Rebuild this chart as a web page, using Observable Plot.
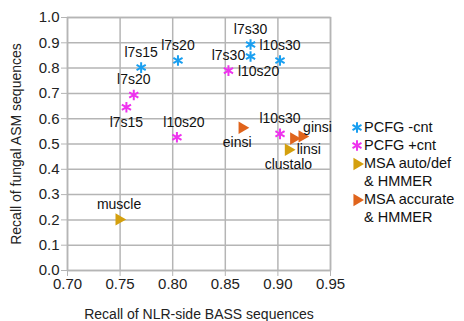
<!DOCTYPE html>
<html>
<head>
<meta charset="utf-8">
<script src="https://cdn.jsdelivr.net/npm/d3@7"></script>
<script src="https://cdn.jsdelivr.net/npm/@observablehq/plot@0.6"></script>
<style>
  html, body { margin: 0; padding: 0; background: #fff; }
  #wrap { position: relative; width: 464px; height: 321px; font-family: "Liberation Sans", Arial, sans-serif; }
  #legend { position: absolute; left: 351px; top: 118px; font-size: 14.5px; line-height: 18px; color: #111; }
  .row { display: flex; align-items: flex-start; }
  .sym { width: 13px; height: 18px; flex: none; }
</style>
</head>
<body>
<div id="wrap"></div>
<script>
// ---- data ----
const seriesNames = ["PCFG -cnt", "PCFG +cnt", "MSA auto/def & HMMER", "MSA accurate & HMMER"];
const seriesColors = ["#1a9ff0", "#ee33ee", "#d4a00e", "#e0641c"];

const pcfgMinusLabels = ["l7s15", "l7s20", "l7s30", "l10s20", "l10s30"];
const pcfgMinusX = [0.770, 0.805, 0.874, 0.874, 0.902];
const pcfgMinusY = [0.802, 0.830, 0.893, 0.846, 0.830];
const pcfgMinusPos = ["n", "n", "n", "sr", "n"];

const pcfgPlusLabels = ["l7s15", "l7s20", "l7s30", "l10s20", "l10s30"];
const pcfgPlusX = [0.756, 0.763, 0.853, 0.804, 0.902];
const pcfgPlusY = [0.645, 0.694, 0.790, 0.527, 0.540];
const pcfgPlusPos = ["s", "n", "n", "nr", "n"];

const msaAutoLabels = ["muscle", "clustalo"];
const msaAutoX = [0.749, 0.910];
const msaAutoY = [0.202, 0.477];
const msaAutoPos = ["n", "s"];

const msaAccLabels = ["einsi", "linsi", "ginsi"];
const msaAccX = [0.866, 0.915, 0.923];
const msaAccY = [0.564, 0.522, 0.530];
const msaAccPos = ["sl", "se", "ne"];

const xTicks = [0.70, 0.75, 0.80, 0.85, 0.90, 0.95];
const yTicks = [0.0, 0.1, 0.2, 0.3, 0.4, 0.5, 0.6, 0.7, 0.8, 0.9, 1.0];

// ---- build table ----
function rows(si, labels, xs, ys, pos) {
  return labels.map((l, i) => ({series: seriesNames[si], label: l, x: xs[i], y: ys[i], pos: pos[i]}));
}
const data = [
  ...rows(0, pcfgMinusLabels, pcfgMinusX, pcfgMinusY, pcfgMinusPos),
  ...rows(1, pcfgPlusLabels, pcfgPlusX, pcfgPlusY, pcfgPlusPos),
  ...rows(2, msaAutoLabels, msaAutoX, msaAutoY, msaAutoPos),
  ...rows(3, msaAccLabels, msaAccX, msaAccY, msaAccPos)
];
const color = Object.fromEntries(seriesNames.map((s, i) => [s, seriesColors[i]]));
const stars = data.filter(d => d.series.startsWith("PCFG"));
const tris = data.filter(d => d.series.startsWith("MSA"));

const gridColor = "#b5b5b5";
const font = "Liberation Sans, Arial, sans-serif";

const posOpts = {
  n:  {dx: 0, dy: -15, textAnchor: "middle"},
  nr: {dx: 7, dy: -15, textAnchor: "middle"},
  s:  {dx: 0, dy: 15, textAnchor: "middle"},
  sr: {dx: 8, dy: 15, textAnchor: "middle"},
  sl: {dx: -5, dy: 15, textAnchor: "middle"},
  ne: {dx: 1, dy: -9, textAnchor: "start"},
  se: {dx: 3, dy: 11, textAnchor: "start"}
};
const labelMarks = Object.entries(posOpts).map(([k, o]) =>
  Plot.text(data.filter(d => d.pos === k), {x: "x", y: "y", text: "label", fontSize: 14, fill: "#111", ...o})
);

const chart = Plot.plot({
  width: 464,
  height: 321,
  marginLeft: 67,
  marginRight: 134,
  marginTop: 17,
  marginBottom: 51,
  style: {fontFamily: font, background: "#fff", overflow: "visible"},
  x: {domain: [0.70, 0.95]},
  y: {domain: [0, 1]},
  marks: [
    Plot.gridX(xTicks, {stroke: gridColor, strokeOpacity: 1, strokeWidth: 1.5}),
    Plot.gridY(yTicks, {stroke: gridColor, strokeOpacity: 1, strokeWidth: 1.5}),
    Plot.frame({stroke: gridColor, strokeWidth: 1.5}),
    Plot.axisX({ticks: xTicks, tickFormat: d3.format(".2f"), tickSize: 6, tickPadding: 2, fontSize: 15, stroke: gridColor, fill: "#222", label: null}),
    Plot.axisY({ticks: yTicks, tickFormat: d3.format(".1f"), tickSize: 6, tickPadding: 2, fontSize: 15, stroke: gridColor, fill: "#222", label: null}),
    Plot.axisX({ticks: [], tickSize: 0, fontSize: 14, fill: "#222", label: "Recall of NLR-side BASS sequences", labelAnchor: "center", labelArrow: "none", labelOffset: 48}),
    Plot.axisY({ticks: [], tickSize: 0, fontSize: 14, fill: "#222", label: "Recall of fungal ASM sequences", labelAnchor: "center", labelArrow: "none", labelOffset: 56}),
    Plot.dot(stars, {x: "x", y: "y", symbol: "asterisk", r: 5, stroke: d => color[d.series], strokeWidth: 2}),
    Plot.dot(tris, {x: "x", y: "y", symbol: "triangle", r: 4.6, rotate: 90, fill: d => color[d.series], stroke: "none"}),
    ...labelMarks
  ]
});

const wrap = document.getElementById("wrap");
wrap.appendChild(chart);

// ---- legend ----
const legendLines = [
  {series: 0, text: "PCFG -cnt", sym: "star"},
  {series: 1, text: "PCFG +cnt", sym: "star"},
  {series: 2, text: "MSA auto/def", sym: "tri"},
  {series: -1, text: "& HMMER", sym: null},
  {series: 3, text: "MSA accurate", sym: "tri"},
  {series: -1, text: "& HMMER", sym: null}
];
const legend = document.createElement("div");
legend.id = "legend";
for (const l of legendLines) {
  const row = document.createElement("div");
  row.className = "row";
  const s = d3.create("svg").attr("class", "sym").attr("width", 13).attr("height", 18);
  if (l.sym === "star") {
    s.append("path").attr("transform", "translate(6,9.5)")
      .attr("d", d3.symbol(d3.symbolAsterisk, 75)())
      .attr("stroke", seriesColors[l.series]).attr("stroke-width", 2).attr("fill", "none");
  } else if (l.sym === "tri") {
    s.append("path").attr("transform", "translate(6,10) rotate(90)")
      .attr("d", d3.symbol(d3.symbolTriangle, 66)())
      .attr("fill", seriesColors[l.series]);
  }
  row.appendChild(s.node());
  const t = document.createElement("span");
  t.textContent = l.text;
  row.appendChild(t);
  legend.appendChild(row);
}
wrap.appendChild(legend);
</script>
</body>
</html>
